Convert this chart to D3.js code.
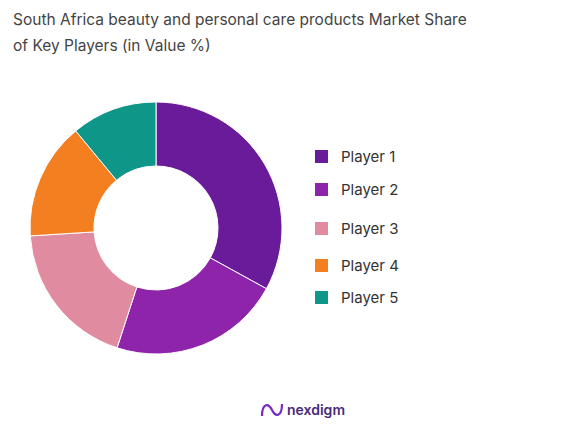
<!DOCTYPE html>
<html><head><meta charset="utf-8">
<script src="https://cdn.jsdelivr.net/npm/d3@7"></script>
<style>body{margin:0;background:#fff;font-family:Inter,"Open Sans",sans-serif}</style>
</head><body>
<svg id="c" width="585" height="429"></svg>
<script>
const categories = ["Player 1","Player 2","Player 3","Player 4","Player 5"];
const values = [33, 22, 19, 15, 11];
const colors = ["#6a1b9a","#8e24aa","#e08ba0","#f47f20","#0e9688"];
const legendY = [157,190,229,266,298];

const svg = d3.select("#c");
svg.append("text").attr("x",13).attr("y",25).attr("font-size",15.5).attr("fill","#444")
  .text("South Africa beauty and personal care products Market Share");
svg.append("text").attr("x",13).attr("y",51).attr("font-size",15.5).attr("fill","#444")
  .text("of Key Players (in Value %)");

const pie = d3.pie().sort(null).value(d=>d)(values);
const arc = d3.arc().innerRadius(62).outerRadius(126);
const g = svg.append("g").attr("transform","translate(156,228)");
g.selectAll("path").data(pie).join("path").attr("d",arc)
  .attr("fill",(d,i)=>colors[i]).attr("stroke","#fff").attr("stroke-width",1);

const lg = svg.append("g");
categories.forEach((c,i)=>{
  lg.append("rect").attr("x",315).attr("y",legendY[i]-7).attr("width",13).attr("height",13).attr("fill",colors[i]);
  lg.append("text").attr("x",341).attr("y",legendY[i]+5).attr("font-size",15).attr("fill","#333").text(c);
});

const logo = svg.append("g");
logo.append("path").attr("d","M262 416 C262 404,268 402,272 410 C276 418,282 416,282 404")
  .attr("fill","none").attr("stroke","#7b2cbf").attr("stroke-width",2.2);
logo.append("text").attr("x",287).attr("y",415).attr("font-size",14).attr("font-weight",600)
  .attr("fill","#4a2a7a").text("nexdigm");
</script>
</body></html>
